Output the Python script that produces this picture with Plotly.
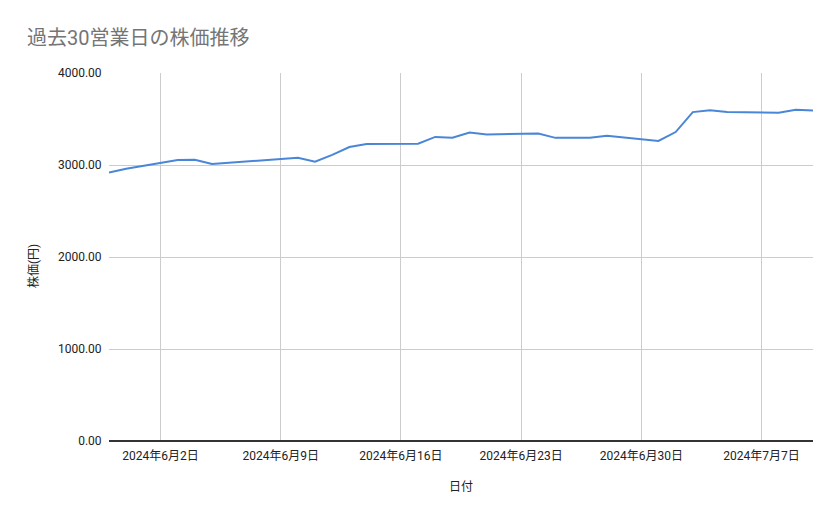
import plotly.graph_objects as go

# 過去30営業日の終値
dates = [
    "2024-05-30", "2024-05-31",
    "2024-06-03", "2024-06-04", "2024-06-05", "2024-06-06", "2024-06-07",
    "2024-06-10", "2024-06-11", "2024-06-12", "2024-06-13", "2024-06-14",
    "2024-06-17", "2024-06-18", "2024-06-19", "2024-06-20", "2024-06-21",
    "2024-06-24", "2024-06-25", "2024-06-26", "2024-06-27", "2024-06-28",
    "2024-07-01", "2024-07-02", "2024-07-03", "2024-07-04", "2024-07-05",
    "2024-07-08", "2024-07-09", "2024-07-10",
]
prices = [
    2918, 2960,
    3054, 3056, 3012, 3025, 3040,
    3078, 3035, 3110, 3195, 3228,
    3232, 3305, 3296, 3352, 3332,
    3342, 3295, 3295, 3295, 3318,
    3262, 3358, 3575, 3595, 3575,
    3568, 3600, 3592,
]
tick_dates = ["2024-06-02", "2024-06-09", "2024-06-16", "2024-06-23", "2024-06-30", "2024-07-07"]
tick_labels = ["2024年6月2日", "2024年6月9日", "2024年6月16日", "2024年6月23日", "2024年6月30日", "2024年7月7日"]
y_ticks = [0, 1000, 2000, 3000, 4000]

W, H = 839, 519
# ページ本体の8pxずれを差し引いた余白
fig_l, fig_t, fig_r, fig_b = 101, 65, 34, 86
fnt = "Roboto, Noto Sans CJK JP, sans-serif"

fig = go.Figure()
fig.add_trace(go.Scatter(
    x=dates, y=prices, mode="lines",
    line=dict(color="#4a86d8", width=2),
    showlegend=False,
))

fig.update_layout(
    width=W, height=H,
    paper_bgcolor="white", plot_bgcolor="white",
    margin=dict(l=fig_l, r=fig_r, t=fig_t, b=fig_b),
    font=dict(family=fnt, size=12, color="#222222"),
    title=dict(
        text="過去30営業日の株価推移",
        x=19 / W, xanchor="left", y=1 - 30 / H, yanchor="middle",
        font=dict(size=20, color="#757575", family=fnt),
    ),
)
plot_h = H - fig_t - fig_b
fig.add_annotation(
    text="株価(円)", textangle=-90, showarrow=False,
    xref="paper", yref="paper",
    x=-(fig_l - 25) / (W - fig_l - fig_r), xanchor="center",
    y=(H - fig_b - (266 - 8)) / plot_h, yanchor="middle",
    font=dict(size=12, color="#222222", family=fnt),
)
fig.update_xaxes(
    type="date",
    range=["2024-05-30", "2024-07-10"],
    tickvals=tick_dates, ticktext=tick_labels,
    showgrid=True, gridcolor="#cccccc", gridwidth=1,
    showline=False, zeroline=False,
    ticks="outside", ticklen=4, tickcolor="white",
    tickfont=dict(size=12, color="#222222"),
    title=dict(text="日付", font=dict(size=12, color="#222222"), standoff=20),
)
fig.update_yaxes(
    range=[0, 4000],
    tickvals=y_ticks, tickformat=".2f",
    showgrid=True, gridcolor="#cccccc", gridwidth=1,
    zeroline=True, zerolinecolor="#333333", zerolinewidth=1.5,
    showline=False, ticks="outside", ticklen=4, tickcolor="white",
    tickfont=dict(size=12, color="#222222"),
)

fig.write_html("out.html")
